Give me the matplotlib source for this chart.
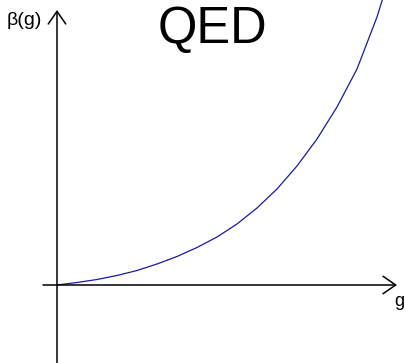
import matplotlib
matplotlib.use('Agg')
import matplotlib.pyplot as plt

# curve (g, beta(g)), arbitrary units
g_vals = [0.0, 0.2, 0.4, 0.6, 0.8, 1.0, 1.2, 1.4, 1.6, 1.8, 2.0, 2.2, 2.4,
          2.6, 2.8, 3.0, 3.2, 3.3]
beta_vals = [0.0, 0.025, 0.055, 0.095, 0.145, 0.21, 0.285, 0.375, 0.48, 0.61,
             0.77, 0.96, 1.19, 1.46, 1.78, 2.16, 2.68, 3.0]

title = 'QED'
xlabel = 'g'
ylabel = 'β(g)'

plt.rcParams['font.family'] = ['Liberation Sans', 'DejaVu Sans']

fig = plt.figure(figsize=(4.05, 3.63), dpi=100)
ax = fig.add_axes([0, 0, 1, 1])
ax.set_xlim(-0.57, 3.48)
ax.set_ylim(-0.78, 2.85)
ax.axis('off')

arrow = dict(arrowstyle='->,head_length=0.65,head_width=0.45', lw=1.1,
             color='black', mutation_scale=14, shrinkA=0, shrinkB=0)
# axes with open arrow heads
ax.annotate('', xy=(3.40, 0), xytext=(-0.14, 0), arrowprops=arrow)
ax.annotate('', xy=(0, 2.75), xytext=(0, -0.78), arrowprops=arrow)

ax.plot(g_vals, beta_vals, color='#1a1aa0', lw=0.9)

ax.text(1.55, 2.555, title, fontsize=36.5, ha='center', va='center')
ax.text(-0.325, 2.645, ylabel, fontsize=14, ha='center', va='center')
ax.text(3.42, -0.16, xlabel, fontsize=13, ha='center', va='center')

plt.savefig('out.png', dpi=100)
plt.close()
